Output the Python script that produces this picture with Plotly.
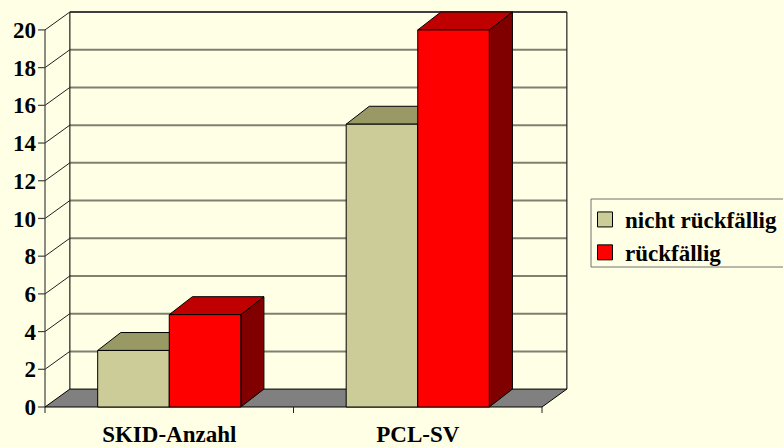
import plotly.graph_objects as go

# ---- data ----
categories = ["SKID-Anzahl", "PCL-SV"]
series_names = ["nicht rückfällig", "rückfällig"]
nicht_rueckfaellig = [3.0, 15.0]
rueckfaellig = [4.9, 20.0]
y_ticks = [0, 2, 4, 6, 8, 10, 12, 14, 16, 18, 20]

# ---- styling / geometry constants ----
BG = "#FFFFE6"
FRONT = ["#CCCC99", "#FF0000"]
TOP = ["#999966", "#C00000"]
SIDE = ["#666633", "#800000"]
FONT = "Liberation Serif"
DX, DY = 0.1, 0.95          # wall depth (x units, value units)
BDX, BDY = 0.093, 0.95      # bar depth
BW = 0.288                  # bar width (category units)
YMAX = 20

PX_X, PX_Y = 248.5, 18.854
L, R, T, B = 37, 213, 10, 32
W, H = 783, 447
PW, PH = W - L - R, H - T - B
xmin = (L - 45) / PX_X
xmax = xmin + PW / PX_X
ymin = -((H - B) - 407) / PX_Y
ymax = ymin + PH / PX_Y


def px_to_paper_x(px):
    return (px - L) / PW


def px_to_paper_y(py):
    return ((H - B) - py) / PH


fig = go.Figure()


def poly(xs, ys, fill, lc="black", lw=1):
    fig.add_trace(go.Scatter(x=xs + [xs[0]], y=ys + [ys[0]], mode="lines", fill="toself",
                             fillcolor=fill, line=dict(color=lc, width=lw),
                             showlegend=False, hoverinfo="skip"))


def seg(xs, ys, color, width):
    fig.add_trace(go.Scatter(x=xs, y=ys, mode="lines", line=dict(color=color, width=width),
                             showlegend=False, hoverinfo="skip", connectgaps=False))


n = len(categories)
# back-wall gridlines and left-wall diagonals
gx, gy, dx_, dy_ = [], [], [], []
for v in y_ticks[1:-1]:
    gx += [DX, n + DX, None]
    gy += [v + DY, v + DY, None]
for v in y_ticks[1:]:
    dx_ += [0, DX, None]
    dy_ += [v, v + DY, None]
seg(gx, gy, "#808070", 2)
seg(dx_, dy_, "#202020", 1)
# wall outline
seg([DX, n + DX], [YMAX + DY, YMAX + DY], "#404040", 2)
seg([DX, DX, None, n + DX, n + DX], [DY, YMAX + DY, None, DY, YMAX + DY], "#202020", 1.2)
# front value axis + tick marks
tx, ty = [0, 0, None], [0, YMAX, None]
for v in y_ticks:
    tx += [-0.028, 0, None]
    ty += [v, v, None]
seg(tx, ty, "#404040", 1.2)
# floor
poly([0, n, n + DX, DX], [0, 0, DY, DY], "#808080")
# category ticks
cx, cy = [], []
for i in range(n + 1):
    cx += [i, i, None]
    cy += [0, -0.32, None]
seg(cx, cy, "#202020", 1)

# bars
for ci in range(n):
    vals = [nicht_rueckfaellig[ci], rueckfaellig[ci]]
    for si, v in enumerate(vals):
        x0 = ci + 0.5 + (si - 1) * BW
        x1 = x0 + BW
        poly([x1, x1 + BDX, x1 + BDX, x1], [0, BDY, v + BDY, v], SIDE[si])
        poly([x0, x1, x1 + BDX, x0 + BDX], [v, v, v + BDY, v + BDY], TOP[si])
        poly([x0, x1, x1, x0], [0, 0, v, v], FRONT[si])

# legend entries
for si, name in enumerate(series_names):
    fig.add_trace(go.Scatter(x=[None], y=[None], mode="markers", name=name,
                             marker=dict(symbol="square", size=15, color=FRONT[si],
                                         line=dict(color="black", width=1))))

fig.update_layout(
    width=W, height=H, autosize=False,
    paper_bgcolor=BG, plot_bgcolor=BG,
    margin=dict(l=L, r=R, t=T, b=B, pad=0, autoexpand=False),
    font=dict(family=FONT, size=22, color="black"),
    showlegend=True,
    legend=dict(x=px_to_paper_x(585), y=px_to_paper_y(198),
                xanchor="left", yanchor="top", bgcolor="rgba(0,0,0,0)",
                borderwidth=0,
                font=dict(family=FONT, size=23, color="black", weight="bold"),
                itemsizing="trace"),
    shapes=[dict(type="rect", xref="paper", yref="paper",
                 x0=px_to_paper_x(591), x1=px_to_paper_x(800),
                 y0=px_to_paper_y(267), y1=px_to_paper_y(199),
                 line=dict(color="#707070", width=1), fillcolor=BG, layer="below")],
    xaxis=dict(range=[xmin, xmax], showgrid=False, zeroline=False, showline=False,
               tickvals=[i + 0.5 for i in range(n)], ticktext=categories, ticks="",
               tickfont=dict(family=FONT, size=23, color="black", weight="bold"),
               ticklabelstandoff=3, fixedrange=True, automargin=False),
    yaxis=dict(range=[ymin, ymax], showgrid=False, zeroline=False, showline=False,
               tickvals=y_ticks, ticks="",
               tickfont=dict(family=FONT, size=23, color="black", weight="bold"),
               ticklabelstandoff=0, fixedrange=True, automargin=False),
)

fig.write_html("out.html", config={"displayModeBar": False},
               post_script="document.body.style.margin='0';"
                           "document.body.style.background='" + BG + "';")
